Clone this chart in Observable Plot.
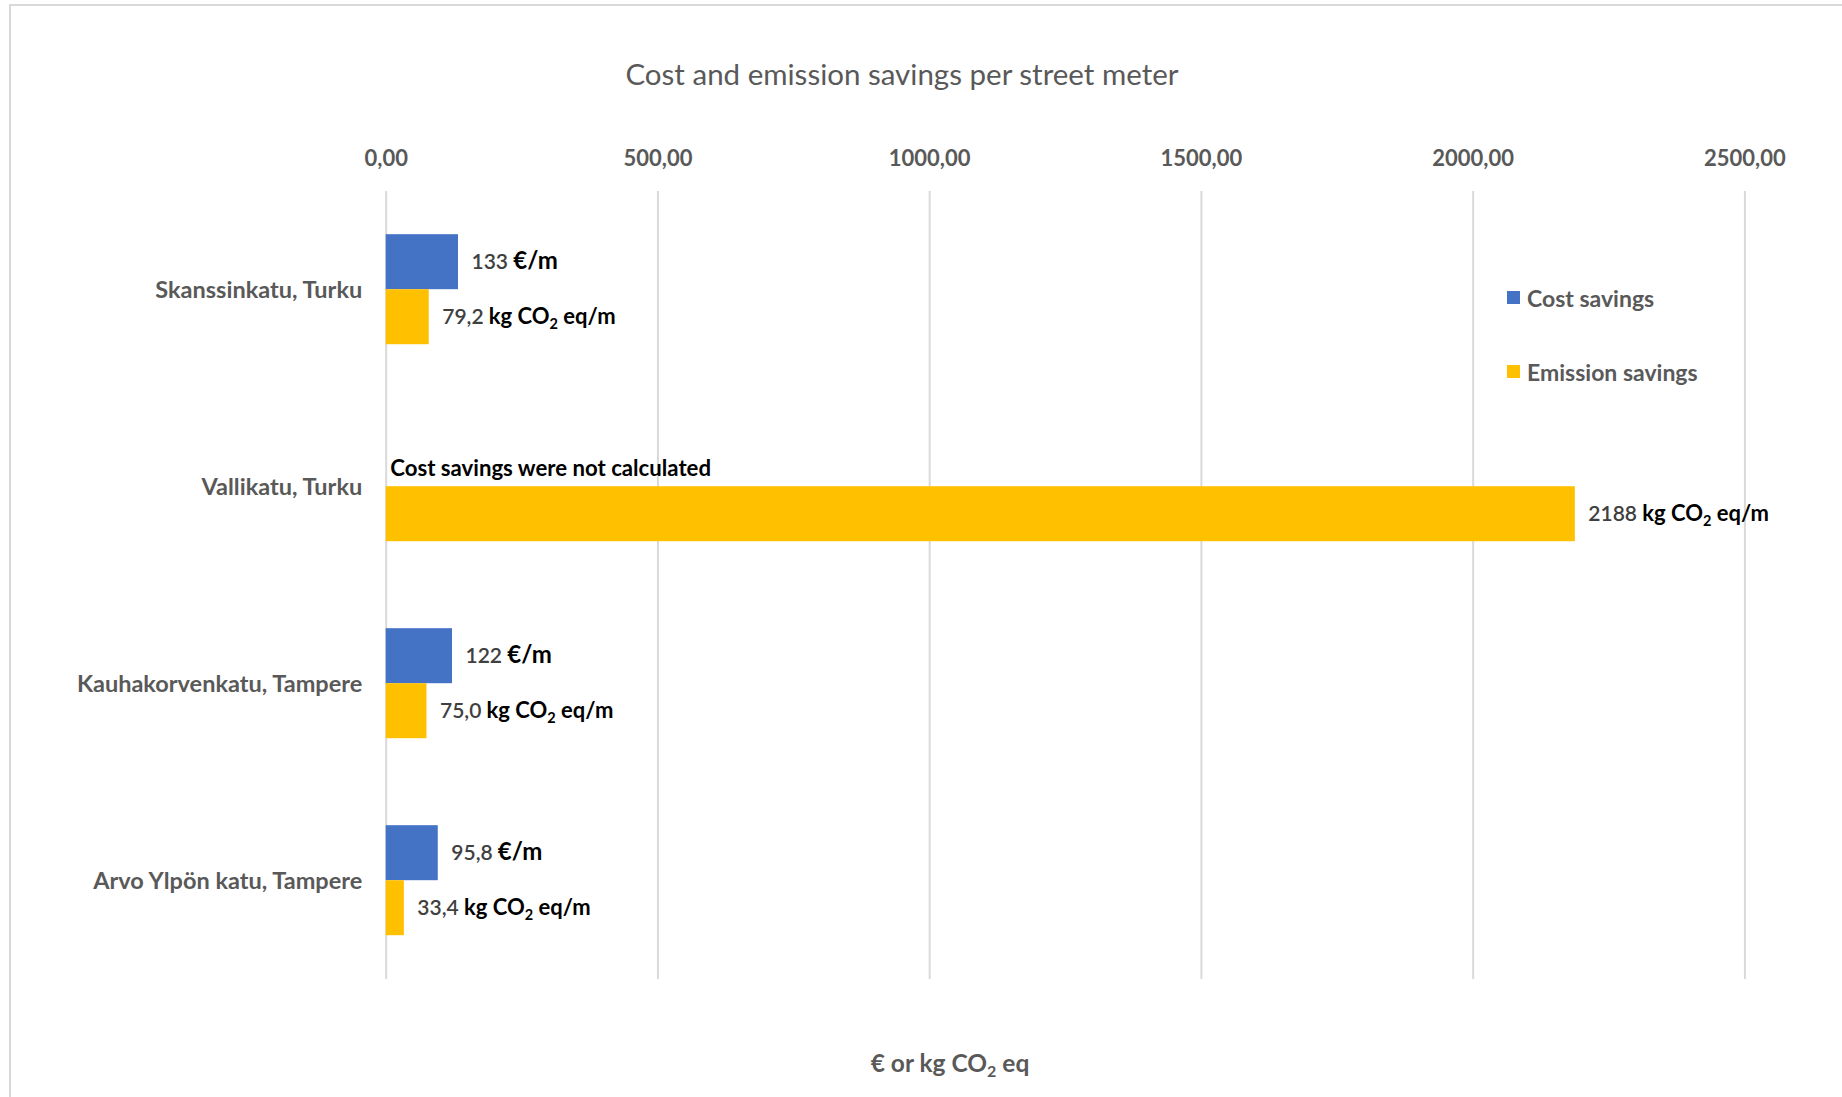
<!DOCTYPE html>
<html>
<head>
<meta charset="utf-8">
<script src="https://cdn.jsdelivr.net/npm/d3@7"></script>
<script src="https://cdn.jsdelivr.net/npm/@observablehq/plot@0.6"></script>
<style>
  body { margin: 0; background: #fff; font-family: Lato, "Open Sans", sans-serif; }
  #wrap { position: relative; width: 1842px; height: 1097px; overflow: hidden; background: #fff; }
  #border { position: absolute; left: 9px; top: 4px; width: 1900px; height: 1200px; border: 2px solid #d9d9d9; box-sizing: border-box; }
  #chart { position: absolute; left: 0; top: 0; }
  .abs { position: absolute; white-space: nowrap; transform: translate(-50%, -50%); }
  #title { left: 902px; top: 73px; font-size: 29.5px; color: #595959; }
  #xlabel { left: 950px; top: 1064px; font-size: 24.5px; font-weight: 700; color: #595959; }
  #xlabel sub { font-size: 16px; vertical-align: -5px; }
  .leg { position: absolute; left: 1507px; display: flex; align-items: center; transform: translateY(-50%); font-size: 23px; font-weight: 700; color: #595959; }
  .leg i { display: inline-block; width: 13px; height: 13px; margin-right: 7px; }
</style>
</head>
<body>
<div id="wrap">
  <div id="border"></div>
  <div id="chart"></div>
  <div id="title" class="abs"></div>
  <div id="legend"></div>
  <div id="xlabel" class="abs">€ or kg CO<sub>2</sub> eq</div>
</div>
<script>
// ---- data ----
const streets = ["Skanssinkatu, Turku", "Vallikatu, Turku", "Kauhakorvenkatu, Tampere", "Arvo Ylpön katu, Tampere"];
const seriesNames = ["Cost savings", "Emission savings"];
const seriesColors = ["#4472c4", "#ffc000"];
const costSavings = [133, null, 122, 95.8];
const emissionSavings = [79.2, 2188, 75.0, 33.4];
const costLabels = ["133", null, "122", "95,8"];
const emissionLabels = ["79,2", "2188", "75,0", "33,4"];
const costUnit = "€/m";
const emissionUnit = "kg CO₂ eq/m";
const xTicks = [0, 500, 1000, 1500, 2000, 2500];
const noteStreet = "Vallikatu, Turku";
const noteText = "Cost savings were not calculated";
const titleText = "Cost and emission savings per street meter";

// ---- build table ----
const rows = [];
streets.forEach((s, i) => {
  rows.push({street: s, series: seriesNames[0], value: costSavings[i], label: costLabels[i] == null ? null : costLabels[i] + " " + costUnit});
  rows.push({street: s, series: seriesNames[1], value: emissionSavings[i], label: emissionLabels[i] + " " + emissionUnit});
});
const noteRows = [{street: noteStreet, series: seriesNames[0], value: 0, text: noteText}];

document.getElementById("title").textContent = titleText;
const legend = document.getElementById("legend");
seriesNames.forEach((n, i) => {
  const d = document.createElement("div");
  d.className = "leg";
  d.style.top = (i === 0 ? 297.5 : 371.5) + "px";
  d.innerHTML = `<i style="background:${seriesColors[i]}"></i>`;
  d.appendChild(document.createTextNode(n));
  legend.appendChild(d);
});

const fmt = d => d3.format(".2f")(d).replace(".", ",");
const font = "Lato, 'Open Sans', sans-serif";

const chart = Plot.plot({
  width: 1842,
  height: 1097,
  marginLeft: 385.7,
  marginRight: 97.6,
  marginTop: 190.8,
  marginBottom: 117.8,
  style: {fontFamily: font, background: "transparent"},
  x: {domain: [0, 2500]},
  y: {domain: seriesNames, axis: null, paddingInner: 0, paddingOuter: 0.76},
  fy: {domain: streets, padding: 0, axis: null},
  color: {domain: seriesNames, range: seriesColors},
  marks: [
    Plot.gridX(xTicks, {stroke: "#d9d9d9", strokeOpacity: 1, strokeWidth: 2}),
    Plot.axisX({anchor: "top", ticks: xTicks, tickFormat: fmt, tickSize: 0, tickPadding: 26, label: null, fontSize: 22, fontWeight: 700, fill: "#595959"}),
    Plot.axisFy({anchor: "left", tickSize: 0, tickPadding: 24, label: null, fontSize: 23.5, fontWeight: 700, fill: "#595959"}),
    Plot.barX(rows, {x: "value", y: "series", fy: "street", fill: "series", filter: d => d.value != null}),
    Plot.text(rows, {x: "value", y: "series", fy: "street", text: "label", filter: d => d.label != null, textAnchor: "start", dx: 13, fontSize: 21}),
    Plot.text(noteRows, {x: "value", y: "series", fy: "street", text: "text", textAnchor: "start", dx: 4, dy: 10, fontSize: 22.2, fontWeight: 700, fill: "#000"})
  ]
});
document.getElementById("chart").appendChild(chart);

// style value labels: gray number, bold black unit with subscript 2
const units = [costUnit, emissionUnit];
d3.select(chart).selectAll("text").each(function() {
  const el = d3.select(this);
  const s = el.text();
  const unit = units.find(u => s.endsWith(" " + u));
  if (!unit) return;
  const num = s.slice(0, s.length - unit.length - 1);
  el.text(null);
  el.append("tspan").attr("fill", "#404040").attr("font-weight", 600).text(num + " ");
  const parts = unit.split("₂");
  const u = el.append("tspan").attr("fill", "#000").attr("font-weight", 700).attr("font-size", parts.length === 2 ? 22 : 24);
  if (parts.length === 2) {
    u.append("tspan").text(parts[0]);
    u.append("tspan").attr("font-size", 14.5).attr("dy", 5).text("2");
    u.append("tspan").attr("dy", -5).text(parts[1]);
  } else {
    u.text(unit);
  }
});
</script>
</body>
</html>
